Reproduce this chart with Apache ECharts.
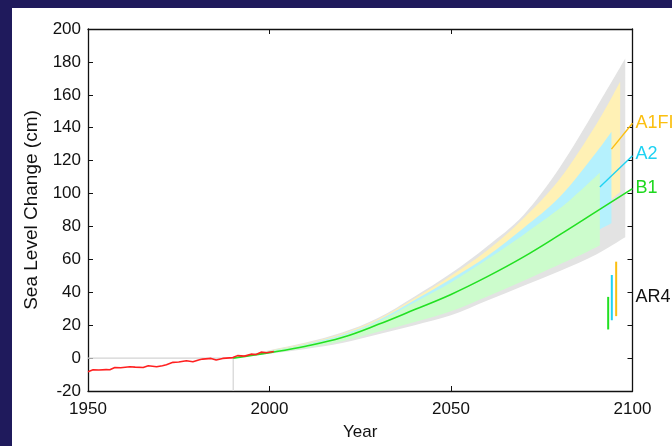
<!DOCTYPE html>
<html><head><meta charset="utf-8">
<script src="https://cdn.jsdelivr.net/npm/echarts@6/dist/echarts.min.js"></script>
<style>
html,body{margin:0;padding:0;background:#1f1a5c;width:672px;height:446px;overflow:hidden}
#c{position:absolute;left:12px;top:8px;width:660px;height:438px;background:#fff}
</style></head><body><div id="c"></div>
<script>
// ---- data ----
const grayYears = [1990, 2000, 2010, 2020, 2030, 2040, 2050, 2060, 2070, 2080, 2090, 2098];
const grayUpper = [0, 4.8, 9.5, 15.5, 24.5, 37.5, 51.5, 68, 87, 116, 152, 182];
const grayLower = [0, 2.6, 5.6, 9.2, 14.5, 20, 26, 35, 44, 53, 63, 73.5];

const a1fiYears = [1990, 2000, 2010, 2020, 2030, 2040, 2050, 2060, 2070, 2080, 2090, 2096.6];
const a1fiUpper = [0, 4.5, 9, 14.8, 23.7, 36.3, 50, 65.5, 85, 109, 142, 168];
const a1fiLower = [0, 3.4, 7.2, 12, 18, 26, 35, 46, 58.5, 72.5, 89, 101];

const a2Years = [1990, 2000, 2010, 2020, 2030, 2040, 2050, 2060, 2070, 2080, 2090, 2094.2];
const a2Upper = [0, 4.3, 8.6, 14.2, 23, 35.3, 48, 62, 79, 98, 125, 137.6];
const a2Lower = [0, 3.2, 6.8, 11, 16.5, 23.5, 31.5, 41, 52, 64, 77, 82];

const b1Years = [1990, 2000, 2010, 2020, 2030, 2040, 2050, 2060, 2070, 2080, 2085, 2091];
const b1Upper = [0, 4.1, 8.2, 13.6, 22.3, 34, 46, 60, 75, 91, 100.5, 112.7];
const b1Lower = [0, 3.0, 6.2, 10.3, 16, 22, 28.5, 37.5, 47, 57, 62, 68.5];

const b1CentralYears = [1990, 2000, 2010, 2020, 2030, 2040, 2050, 2060, 2070, 2080, 2090, 2100];
const b1Central = [0, 3.3, 7.2, 12.5, 20.5, 29.5, 38.7, 49.5, 61.5, 75, 89, 103];

const obsYears = [1950, 1951.4, 1953, 1955, 1956, 1957.4, 1959, 1961.5, 1963, 1965.2, 1966.6, 1968.9, 1970.5, 1971.6, 1973.4, 1975, 1977.1, 1978.9, 1980.7, 1981.6, 1983.9, 1985.3, 1987.1, 1989.9, 1991.2, 1993.1, 1994.9, 1996.3, 1997.7, 1999.1, 2001.2];
const obsValues = [-8.3, -7.1, -7.2, -7.0, -7.1, -5.7, -5.9, -5.3, -5.5, -5.7, -4.7, -5.3, -4.6, -4.0, -2.6, -2.4, -1.6, -2.2, -1.0, -0.6, -0.2, -1.2, -0.2, 0.3, 1.5, 1.2, 2.4, 2.2, 3.6, 3.2, 4.0];

const refLineYears = [1950, 1990, 1990];
const refLineValues = [0, 0, -20];

const a1fiPointerYears = [2094.2, 2100];
const a1fiPointerValues = [127, 142.7];
const a2PointerYears = [2091, 2100];
const a2PointerValues = [104, 123];

const ar4Years = [2093.3, 2094.3, 2095.5];
const ar4Low = [17.4, 23, 25.5];
const ar4High = [37.2, 50.5, 58.6];

const labelNames = ['A1FI', 'A2', 'B1', 'AR4'];
const labelValues = [143, 124, 103.5, 37];

const xTicks = [1950, 2000, 2050, 2100];
const yTicks = [-20, 0, 20, 40, 60, 80, 100, 120, 140, 160, 180, 200];

// ---- styles ----
const C = {
  gray: '#e3e3e3', yellowFill: '#fff1b5', blueFill: '#b5f1fd', greenFill: '#ccfccc',
  gold: '#fbbf10', cyan: '#1ed2f2', green: '#22e022', red: '#ff2020', ref: '#d4d4d4', axis: '#111'
};
const labelColors = [C.gold, C.cyan, '#1ed81e', '#111'];
const ar4Colors = [C.green, C.cyan, C.gold];

// smooth path through pixel points (Catmull-Rom -> Bezier), rendering only
function curvePath(pts, moveFirst) {
  let d = (moveFirst ? 'M' : 'L') + pts[0][0] + ' ' + pts[0][1];
  for (let i = 0; i < pts.length - 1; i++) {
    const p0 = pts[Math.max(i - 1, 0)], p1 = pts[i], p2 = pts[i + 1], p3 = pts[Math.min(i + 2, pts.length - 1)];
    const c1x = p1[0] + (p2[0] - p0[0]) / 6, c1y = p1[1] + (p2[1] - p0[1]) / 6;
    const c2x = p2[0] - (p3[0] - p1[0]) / 6, c2y = p2[1] - (p3[1] - p1[1]) / 6;
    d += ' C' + c1x + ' ' + c1y + ' ' + c2x + ' ' + c2y + ' ' + p2[0] + ' ' + p2[1];
  }
  return d;
}

function band(yrs, lower, upper, color) {
  return {
    type: 'custom', silent: true, z: 1, clip: true,
    encode: { x: 0, y: 1 },
    data: [[yrs[0], lower[0]]],
    renderItem: function (params, api) {
      const up = yrs.map((y, i) => api.coord([y, upper[i]]));
      const lo = yrs.map((y, i) => api.coord([y, lower[i]])).reverse();
      const d = curvePath(up, true) + ' ' + curvePath(lo, false) + ' Z';
      return { type: 'path', shape: { pathData: d }, style: { fill: color, stroke: null } };
    }
  };
}
function pairs(xs, ys) { return xs.map((x, i) => [x, ys[i]]); }

const series = [
  band(grayYears, grayLower, grayUpper, C.gray),
  band(a1fiYears, a1fiLower, a1fiUpper, C.yellowFill),
  band(a2Years, a2Lower, a2Upper, C.blueFill),
  band(b1Years, b1Lower, b1Upper, C.greenFill)
];

series.push({ type: 'line', data: pairs(refLineYears, refLineValues), symbol: 'none',
  lineStyle: { color: C.ref, width: 1.2 }, silent: true, z: 3 });
series.push({ type: 'line', data: pairs(b1CentralYears, b1Central), symbol: 'none', smooth: 0.4,
  lineStyle: { color: C.green, width: 1.6 }, silent: true, z: 4 });
series.push({ type: 'line', data: pairs(obsYears, obsValues), symbol: 'none',
  lineStyle: { color: C.red, width: 1.6 }, silent: true, z: 5 });
series.push({ type: 'line', data: pairs(a1fiPointerYears, a1fiPointerValues), symbol: 'none',
  lineStyle: { color: C.gold, width: 1.4 }, silent: true, z: 4 });
series.push({ type: 'line', data: pairs(a2PointerYears, a2PointerValues), symbol: 'none',
  lineStyle: { color: C.cyan, width: 1.4 }, silent: true, z: 4 });
ar4Years.forEach((yr, i) => {
  series.push({ type: 'line', data: [[yr, ar4Low[i]], [yr, ar4High[i]]], symbol: 'none',
    lineStyle: { color: ar4Colors[i], width: 2 }, silent: true, z: 4 });
});
series.push({ type: 'scatter', symbolSize: 0, silent: true, z: 6, clip: false,
  data: labelNames.map((n, i) => ({ value: [2100, labelValues[i]],
    label: { show: true, formatter: n, position: 'right', distance: 3, color: labelColors[i], fontSize: 18, opacity: 1 } })) });

const axisLine = { show: true, onZero: false, lineStyle: { color: C.axis, width: 1.3 } };
const axisTick = { show: true, inside: true, length: 5, lineStyle: { color: C.axis, width: 1 } };
const font = 'Liberation Sans, Arial, sans-serif';

const chart = echarts.init(document.getElementById('c'), null, { renderer: 'canvas' });
chart.setOption({
  animation: false,
  backgroundColor: '#fff',
  textStyle: { fontFamily: font },
  grid: { left: 76, right: 39.5, top: 21, bottom: 55, containLabel: false, outerBoundsMode: 'none' },
  xAxis: [
    { type: 'value', min: xTicks[0], max: xTicks[xTicks.length - 1], interval: 50, position: 'bottom',
      axisLine, axisTick, splitLine: { show: false },
      axisLabel: { fontSize: 17, color: C.axis, margin: 10, fontFamily: font, formatter: v => String(v) },
      name: 'Year', nameLocation: 'middle', nameGap: 33,
      nameTextStyle: { fontSize: 17, color: C.axis, fontFamily: font } },
    { type: 'value', min: xTicks[0], max: xTicks[xTicks.length - 1], interval: 50, position: 'top',
      axisLine, axisTick, splitLine: { show: false }, axisLabel: { show: false } }
  ],
  yAxis: [
    { type: 'value', min: yTicks[0], max: yTicks[yTicks.length - 1], interval: 20, position: 'left',
      axisLine, axisTick, splitLine: { show: false },
      axisLabel: { fontSize: 17, color: C.axis, margin: 7, fontFamily: font },
      name: 'Sea Level Change (cm)', nameLocation: 'middle', nameGap: 45, nameRotate: 90,
      nameTextStyle: { fontSize: 19, color: C.axis, fontFamily: font } },
    { type: 'value', min: yTicks[0], max: yTicks[yTicks.length - 1], interval: 20, position: 'right',
      axisLine, axisTick, splitLine: { show: false }, axisLabel: { show: false } }
  ],
  series: series
});
</script></body></html>
